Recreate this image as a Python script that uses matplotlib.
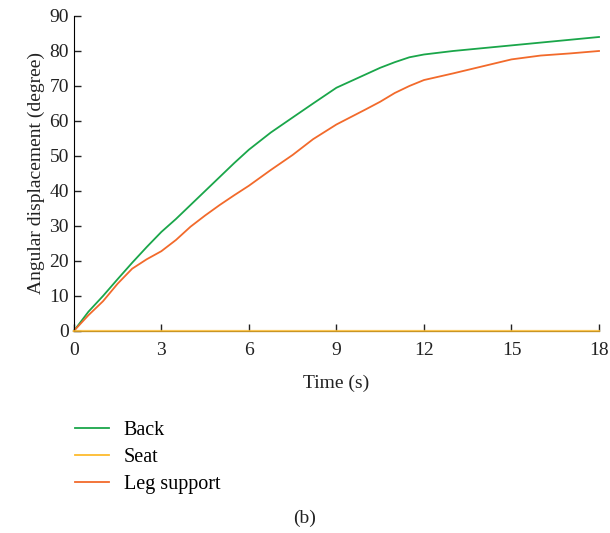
import matplotlib.pyplot as plt
from matplotlib.lines import Line2D

plt.rcParams['font.family'] = ['Liberation Serif', 'DejaVu Serif']

# time points (s)
t = [0, 0.5, 1, 1.5, 2, 2.5, 3, 3.5, 4, 4.5, 5, 5.5, 6, 6.75, 7.5, 8.2,
     9, 10, 10.5, 11, 11.5, 12, 13, 14, 15, 16, 17, 18]
back = [0, 5.5, 10, 14.8, 19.5, 24, 28.3, 32, 36, 40, 44, 48, 51.8, 56.7, 61, 65.0,
        69.5, 73.3, 75.2, 76.8, 78.2, 79, 80, 80.8, 81.6, 82.4, 83.2, 84]
seat = [0] * len(t)
leg = [0, 4.5, 8.5, 13.5, 17.8, 20.5, 22.8, 26, 29.8, 33, 36, 38.8, 41.5, 46, 50.3, 54.8,
       59, 63.3, 65.5, 68, 70, 71.7, 73.6, 75.6, 77.6, 78.7, 79.3, 80]

labels = ['Back', 'Seat', 'Leg support']
colors = ['#1aa64a', '#fdbb2d', '#f26a2b']

fig = plt.figure(figsize=(6.1, 5.33), dpi=100)
ax = fig.add_axes([0.121, 0.379, 0.861, 0.591])

ax.plot(t, back, color=colors[0], lw=1.3, clip_on=False)
ax.plot(t, leg, color=colors[2], lw=1.3, clip_on=False)
# seat stays at zero, drawn over the x axis
ax.plot(t, seat, color=colors[1], lw=1.6, alpha=0.8, clip_on=False, zorder=5)

ax.set_xlim(0, 18)
ax.set_ylim(0, 90)
ax.set_xticks([0, 3, 6, 9, 12, 15, 18])
ax.set_yticks(range(0, 91, 10))
ax.spines['top'].set_visible(False)
ax.spines['right'].set_visible(False)
ax.tick_params(direction='in', length=5, width=1, labelsize=14, colors='#222222')
ax.tick_params(axis='x', pad=8)
ax.set_xlabel('Time (s)', fontsize=14, color='#222222', labelpad=11)
ax.set_ylabel('Angular displacement (degree)', fontsize=14, color='#222222', labelpad=3)

handles = [Line2D([], [], color=c, lw=1.3) for c in colors]
fig.legend(handles, labels, loc='upper left', bbox_to_anchor=(0.094, 0.245),
           frameon=False, fontsize=14.5, handlelength=1.65, handletextpad=0.75,
           labelspacing=0.4)

fig.text(0.5, 0.018, '(b)', ha='center', fontsize=14, color='#222222')

fig.savefig('out.png', dpi=100)
